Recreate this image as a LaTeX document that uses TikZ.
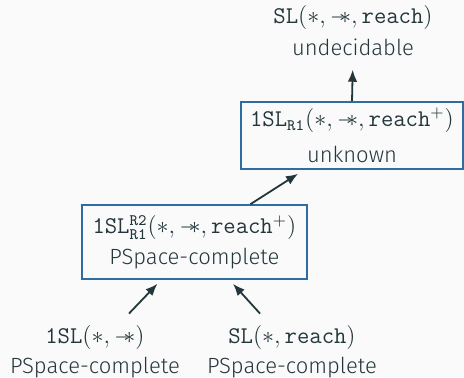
\documentclass[tikz,border=0pt]{standalone}
\usepackage[no-math]{fontspec}
\setmainfont{Fira Sans Light}
\usetikzlibrary{arrows.meta}
\definecolor{fg}{HTML}{23373B}
\definecolor{bg}{HTML}{FAFAFA}
\definecolor{bx}{HTML}{2C6EA3}
\newcommand{\wandop}{\mathbin{-\mkern-7mu\ast}}
\newcommand{\ml}[1]{{\fontsize{12}{15}\selectfont$#1$}}
\begin{document}
\begin{tikzpicture}[x=1pt,y=1pt,
  every node/.style={text=fg, font=\fontsize{11}{15}\selectfont, align=center, inner sep=0pt},
  box/.style={draw=bx, line width=0.8pt, minimum width=111pt},
  arr/.style={draw=fg, line width=0.9pt, -{Latex[length=6pt,width=4.8pt]}}]
\fill[bg] (0,0) rectangle (232,188.5);
\useasboundingbox (0,0) rectangle (232,188.5);
\node (top) at (176.5,173.4) {\ml{\mathtt{SL}(\ast,\wandop,\mathtt{reach})}\\[1pt]undecidable};
\node[box, minimum height=33.5pt] (r1) at (176,120.75) {\ml{\mathtt{1SL}_{\mathtt{R1}}(\ast,\wandop,\mathtt{reach}^{+})}\\[3pt]unknown};
\node[box, minimum width=112.6pt, minimum height=37pt] (r2) at (97.2,67.5) {\ml{\mathtt{1SL}^{\mathtt{R2}}_{\mathtt{R1}}(\ast,\wandop,\mathtt{reach}^{+})}\\PSpace-complete};
\node (bl) at (47.5,12.4) {\ml{\mathtt{1SL}(\ast,\wandop)}\\PSpace-complete};
\node (br) at (146,12.4) {\ml{\mathtt{SL}(\ast,\mathtt{reach})}\\PSpace-complete};
\draw[arr, shorten >=7pt] (r1.north) -- (top.south);
\draw[arr] ([xshift=28pt]r2.north) -- ([shift={(-27pt,-2pt)}]r1.south);
\draw[arr] ([shift={(17pt,6pt)}]bl.north) -- ([shift={(-18.5pt,-2pt)}]r2.south);
\draw[arr] ([shift={(-16pt,6pt)}]br.north) -- ([shift={(19.3pt,-2pt)}]r2.south);
\end{tikzpicture}
\end{document}
